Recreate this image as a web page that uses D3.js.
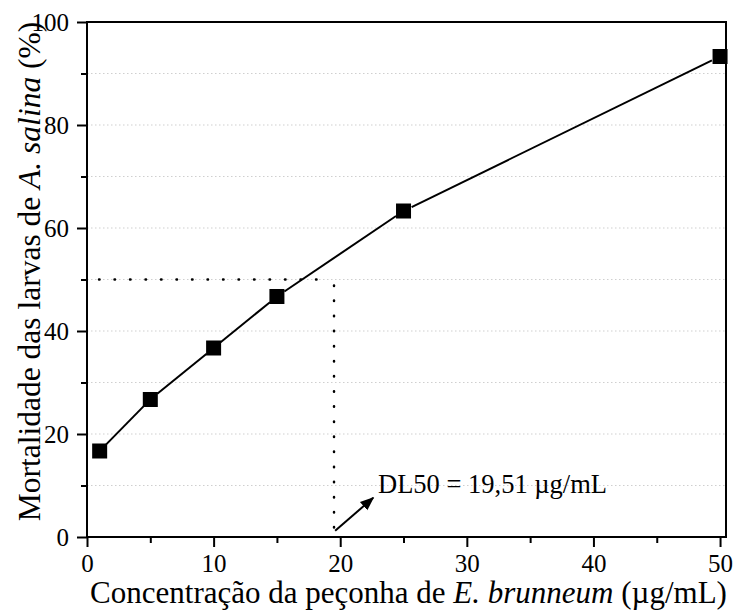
<!DOCTYPE html>
<html>
<head>
<meta charset="utf-8">
<script src="https://cdn.jsdelivr.net/npm/d3@7"></script>
<style>
  body { margin: 0; background: #fff; }
  svg text { font-family: "Liberation Serif", "Times New Roman", serif; fill: #000; }
</style>
</head>
<body>
<div id="chart"></div>
<script>
// data
const conc = [1, 5, 10, 15, 25, 50];
const mortality = [16.7, 26.7, 36.7, 46.7, 63.3, 93.3];
const xTicks = [0, 10, 20, 30, 40, 50];
const yTicks = [0, 20, 40, 60, 80, 100];
const dl50 = 19.51;
const dl50Label = "DL50 = 19,51 \u00b5g/mL";
// dotted guide from x=1 to the DL50 at 50 %
const guideStart = 0.95;
const arrowFrom = [19.6, 1.2];
const arrowTo = [22.6, 7.6];

const width = 736, height = 610;
const margin = {left: 87, right: 10, top: 22, bottom: 73};

const svg = d3.select("#chart").append("svg")
  .attr("width", width)
  .attr("height", height);

const x = d3.scaleLinear().domain([0, 50.47]).range([margin.left, width - margin.right]);
const y = d3.scaleLinear().domain([0, 100]).range([height - margin.bottom, margin.top]);

// light dotted grid every 10 %
svg.append("g")
  .selectAll("line")
  .data(d3.range(10, 100, 10))
  .enter()
  .append("line")
  .attr("x1", x(0)).attr("x2", x(50.47))
  .attr("y1", d => y(d)).attr("y2", d => y(d))
  .attr("stroke", "#cfcfcf")
  .attr("stroke-width", 1)
  .attr("stroke-dasharray", "1.5,2.5");

// axes
const xAxis = d3.axisBottom(x).tickValues(xTicks).tickSize(10).tickPadding(7).tickFormat(d3.format("d"));
const xMinor = d3.axisBottom(x).tickValues([5, 15, 25, 35, 45]).tickSize(6).tickFormat("");
const yAxis = d3.axisLeft(y).tickValues(yTicks).tickSize(10).tickPadding(8).tickFormat(d3.format("d"));
const yMinor = d3.axisLeft(y).tickValues([10, 30, 50, 70, 90]).tickSize(6).tickFormat("");

function styleAxis(g) {
  g.attr("font-family", null).attr("font-size", null);
  g.select(".domain").remove();
  g.selectAll(".tick line").attr("stroke", "#000").attr("stroke-width", 2);
  g.selectAll(".tick text")
    .attr("fill", "#000")
    .style("font-family", "'Liberation Serif', 'Times New Roman', serif")
    .style("font-size", "25px");
}

svg.append("g").attr("transform", `translate(0,${y(0)})`).call(xAxis).call(styleAxis);
svg.append("g").attr("transform", `translate(0,${y(0)})`).call(xMinor).call(styleAxis);
svg.append("g").attr("transform", `translate(${x(0)},0)`).call(yAxis).call(styleAxis);
svg.append("g").attr("transform", `translate(${x(0)},0)`).call(yMinor).call(styleAxis);

// frame
svg.append("rect")
  .attr("x", x(0)).attr("y", y(100))
  .attr("width", x(50.47) - x(0)).attr("height", y(0) - y(100))
  .attr("fill", "none")
  .attr("stroke", "#000")
  .attr("stroke-width", 2);

// dotted DL50 guides
svg.append("line")
  .attr("x1", x(guideStart)).attr("x2", x(dl50) - 6)
  .attr("y1", y(50)).attr("y2", y(50))
  .attr("stroke", "#000").attr("stroke-width", 2.5)
  .attr("stroke-linecap", "round")
  .attr("stroke-dasharray", "0.5,15");

svg.append("line")
  .attr("x1", x(dl50)).attr("x2", x(dl50))
  .attr("y1", y(50) + 6).attr("y2", y(0))
  .attr("stroke", "#000").attr("stroke-width", 2.5)
  .attr("stroke-linecap", "round")
  .attr("stroke-dasharray", "0.5,14.6");

// data line, broken around the markers
const gap = 9;
const segs = [];
for (let i = 0; i < conc.length - 1; i++) {
  const x0 = x(conc[i]), y0 = y(mortality[i]);
  const x1 = x(conc[i + 1]), y1 = y(mortality[i + 1]);
  const len = Math.hypot(x1 - x0, y1 - y0);
  const ux = (x1 - x0) / len, uy = (y1 - y0) / len;
  segs.push([x0 + ux * gap, y0 + uy * gap, x1 - ux * gap, y1 - uy * gap]);
}
svg.append("g")
  .selectAll("line")
  .data(segs)
  .enter()
  .append("line")
  .attr("x1", d => d[0]).attr("y1", d => d[1])
  .attr("x2", d => d[2]).attr("y2", d => d[3])
  .attr("stroke", "#000")
  .attr("stroke-width", 2);

// square markers
const size = 15;
svg.append("g")
  .selectAll("rect")
  .data(conc.map((c, i) => [c, mortality[i]]))
  .enter()
  .append("rect")
  .attr("x", d => x(d[0]) - size / 2)
  .attr("y", d => y(d[1]) - size / 2)
  .attr("width", size).attr("height", size)
  .attr("fill", "#000");

// arrow + label
svg.append("defs").append("marker")
  .attr("id", "head")
  .attr("viewBox", "0 0 10 10")
  .attr("refX", 9).attr("refY", 5)
  .attr("markerWidth", 7).attr("markerHeight", 7)
  .attr("orient", "auto")
  .append("path")
  .attr("d", "M0,1 L10,5 L0,9 Z")
  .attr("fill", "#000");

svg.append("line")
  .attr("x1", x(arrowFrom[0])).attr("y1", y(arrowFrom[1]))
  .attr("x2", x(arrowTo[0])).attr("y2", y(arrowTo[1]))
  .attr("stroke", "#000").attr("stroke-width", 2)
  .attr("marker-end", "url(#head)");

svg.append("text")
  .attr("x", 378).attr("y", 493)
  .attr("font-size", "26.5px")
  .text(dl50Label);

// axis titles
const xt = svg.append("text")
  .attr("x", (x(0) + x(50.47)) / 2 + 2)
  .attr("y", 603)
  .attr("text-anchor", "middle")
  .attr("font-size", "31px");
xt.append("tspan").text("Concentra\u00e7\u00e3o da pe\u00e7onha de ");
xt.append("tspan").attr("font-style", "italic").text("E. brunneum");
xt.append("tspan").text(" (\u00b5g/mL)");

const yt = svg.append("text")
  .attr("transform", `translate(40,${(y(0) + y(100)) / 2 - 8}) rotate(-90)`)
  .attr("text-anchor", "middle")
  .attr("font-size", "31.5px");
yt.append("tspan").text("Mortalidade das larvas de ");
yt.append("tspan").attr("font-style", "italic").text("A. salina");
yt.append("tspan").text(" (%)");
</script>
</body>
</html>
